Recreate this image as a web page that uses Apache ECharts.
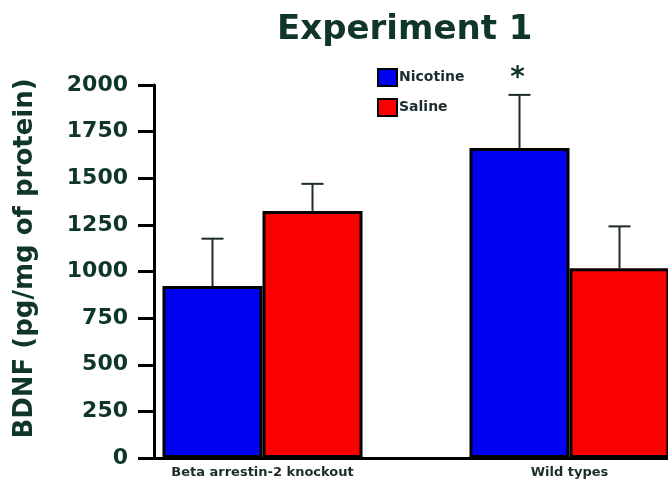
<!DOCTYPE html>
<html><head><meta charset="utf-8">
<script src="https://cdn.jsdelivr.net/npm/echarts@6/dist/echarts.min.js"></script>
<style>html,body{margin:0;padding:0;background:#fff}#c{width:668px;height:481px}</style>
</head><body><div id="c"></div>
<script>
const categories = ['Beta arrestin-2 knockout', 'Wild types'];
const nicotine = [922, 1662];
const nicotineErr = [254, 285];
const saline = [1325, 1017];
const salineErr = [145, 225];
const nicotineMarks = ['', '*'];
const salineMarks = ['', ''];
const yMin = 0, yMax = 2000, yStep = 250;

const FONT = 'DejaVu Sans';
const TXT = '#10352a';
const BAR_W = 100;
const CAP = 22;

function errRender(sign, marks) {
  return function (params, api) {
    const cat = api.value(0), mean = api.value(1), err = api.value(2);
    const base = api.coord([cat, mean]);
    const top = api.coord([cat, mean + err]);
    const x = base[0] + sign * BAR_W / 2;
    const ls = { stroke: '#1c2b27', lineWidth: 2 };
    const children = [
      { type: 'line', shape: { x1: x, y1: base[1], x2: x, y2: top[1] }, style: ls },
      { type: 'line', shape: { x1: x - CAP / 2, y1: top[1], x2: x + CAP / 2, y2: top[1] }, style: ls }
    ];
    const m = marks[params.dataIndex];
    if (m) {
      children.push({ type: 'text', style: { text: m, x: x - 2, y: top[1] - 2, align: 'center', verticalAlign: 'bottom',
        font: 'bold 28px "' + FONT + '"', fill: TXT } });
    }
    return { type: 'group', children };
  };
}

const chart = echarts.init(document.getElementById('c'), null, { renderer: 'canvas' });
chart.setOption({
  backgroundColor: '#fff',
  animation: false,
  title: {
    text: 'Experiment 1', left: 272, top: 8,
    textStyle: { fontFamily: FONT, fontWeight: 'bold', fontSize: 34, color: TXT }
  },
  legend: {
    data: ['Nicotine', 'Saline'], orient: 'vertical', left: 372, top: 63,
    itemWidth: 19, itemHeight: 17, itemGap: 11, icon: 'rect',
    textStyle: { fontFamily: FONT, fontWeight: 'bold', fontSize: 14, color: '#1c2b2b', padding: [0, 0, 0, -3] }
  },
  grid: [
    { left: 109, width: 614, top: 85, bottom: 23, outerBoundsMode: 'none', containLabel: false },
    { left: 154, right: 0, top: 85, bottom: 23, outerBoundsMode: 'none', containLabel: false }
  ],
  xAxis: [
    { gridIndex: 0, type: 'category', data: categories,
      axisLine: { show: false }, axisTick: { show: false },
      axisLabel: { margin: 8, fontFamily: FONT, fontWeight: 'bold', fontSize: 13, color: '#1c2b2b' } },
    { gridIndex: 1, type: 'category', data: categories,
      axisLine: { show: true, lineStyle: { color: '#000', width: 3 } },
      axisTick: { show: false }, axisLabel: { show: false } }
  ],
  yAxis: [
    { gridIndex: 0, type: 'value', min: yMin, max: yMax, show: false },
    { gridIndex: 1, type: 'value', min: yMin, max: yMax, interval: yStep,
      name: 'BDNF (pg/mg of protein)', nameLocation: 'middle', nameRotate: 90, nameGap: 116,
      nameTextStyle: { fontFamily: FONT, fontWeight: 'bold', fontSize: 26, color: TXT, padding: [0, 0, 0, 26] },
      axisLine: { show: true, lineStyle: { color: '#000', width: 3 } },
      axisTick: { show: true, length: 16, lineStyle: { color: '#000', width: 3 } },
      splitLine: { show: false },
      axisLabel: { margin: 26, fontFamily: FONT, fontWeight: 'bold', fontSize: 22, color: TXT,
        formatter: v => String(v) } }
  ],
  series: [
    { name: 'Nicotine', type: 'bar', xAxisIndex: 0, yAxisIndex: 0, data: nicotine,
      barWidth: BAR_W, barGap: '0%',
      itemStyle: { color: '#0000f2', borderColor: '#000', borderWidth: 3 } },
    { name: 'Saline', type: 'bar', xAxisIndex: 0, yAxisIndex: 0, data: saline,
      barWidth: BAR_W, barGap: '0%',
      itemStyle: { color: '#fb0000', borderColor: '#000', borderWidth: 3 } },
    { type: 'custom', xAxisIndex: 0, yAxisIndex: 0, z: 5,
      data: categories.map((c, i) => [i, nicotine[i], nicotineErr[i]]),
      renderItem: errRender(-1, nicotineMarks) },
    { type: 'custom', xAxisIndex: 0, yAxisIndex: 0, z: 5,
      data: categories.map((c, i) => [i, saline[i], salineErr[i]]),
      renderItem: errRender(1, salineMarks) }
  ]
});
</script>
</body></html>
